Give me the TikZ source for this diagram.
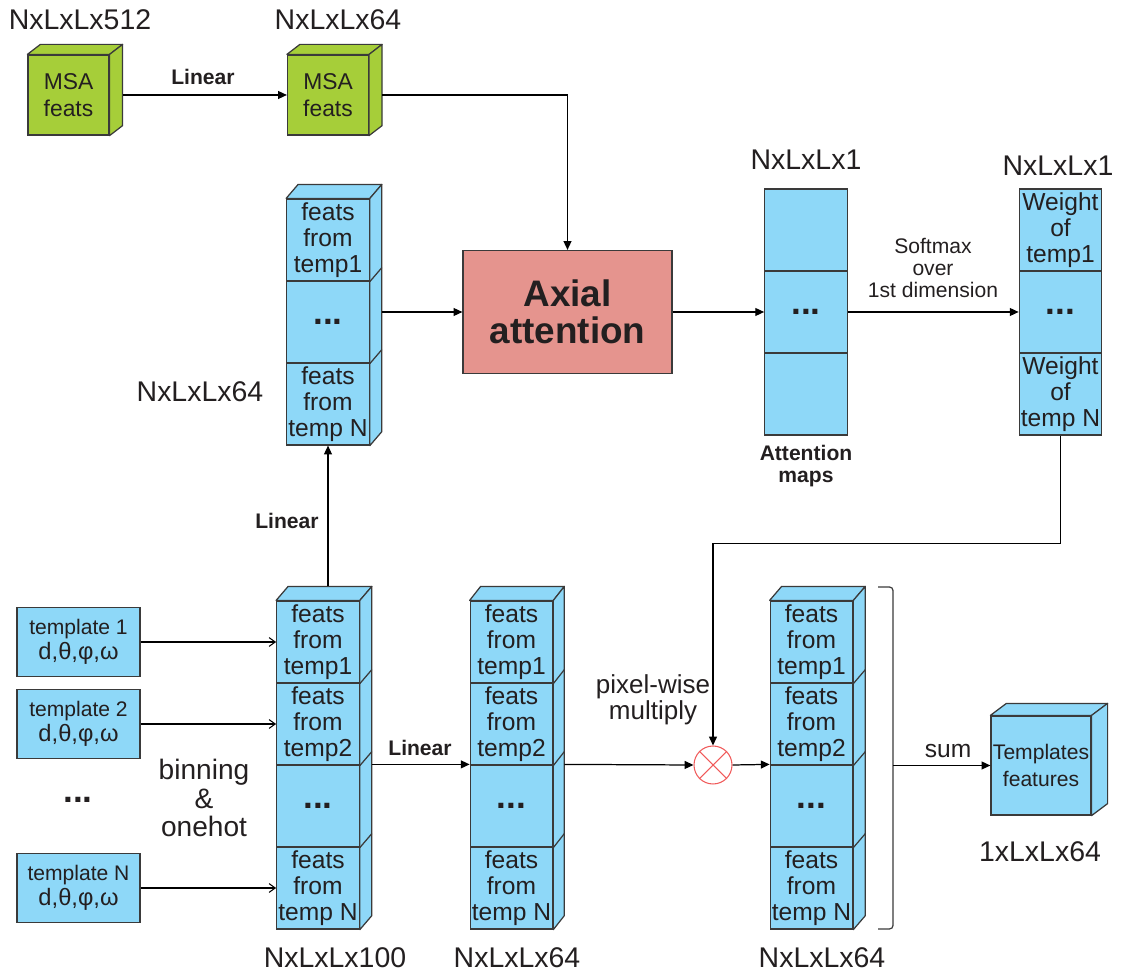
\documentclass[tikz,border=0pt]{standalone}
\usepackage{fontspec}
\setmainfont{Liberation Sans}
\usetikzlibrary{arrows.meta,calc}
\definecolor{cellblue}{HTML}{8ED8F8}
\definecolor{msagreen}{HTML}{A6CE39}
\definecolor{axred}{HTML}{E5948E}
\definecolor{mulred}{HTML}{F05A5A}
\definecolor{inkgray}{HTML}{231F20}
\definecolor{edgegray}{HTML}{3A3A3A}

\begin{document}
\begin{tikzpicture}[x=0.02cm,y=-0.02cm,
  cell/.style={draw=edgegray,fill=cellblue,line width=0.7pt,minimum width=1.65cm,
    minimum height=1.64cm,inner sep=0pt,align=center,text=inkgray,
    font=\fontsize{14}{14.8}\selectfont},
  dots/.style={font=\bfseries\fontsize{20}{20}\selectfont},
  face/.style={draw=edgegray,fill=cellblue,line width=0.7pt,line join=round},
  dimlab/.style={text=inkgray,font=\fontsize{16.2}{17}\selectfont},
  oplab/.style={text=inkgray,font=\bfseries\fontsize{12}{13}\selectfont,align=center},
  note/.style={text=inkgray,align=center},
  arr/.style={-{Triangle[length=5pt,width=4.5pt]},line width=0.7pt},
  thinarr/.style={-{Straight Barb[length=3.5pt,width=5pt]},line width=0.6pt}
]

  \useasboundingbox (0,0) rectangle (1123,972);

  % ---- MSA branch (top) ----------------------------------------
  \node[cell,fill=msagreen,minimum width=1.62cm,minimum height=1.6cm,
    font=\fontsize{13}{15}\selectfont] (m1) at (68.5,95) {MSA\\feats};
  \node[cell,fill=msagreen,minimum width=1.62cm,minimum height=1.6cm,
    font=\fontsize{13}{15}\selectfont] (m2) at (328,95) {MSA\\feats};
  \node[dimlab] (d512) at (80,20) {NxLxLx512};
  \node[dimlab] (dm64) at (338,20) {NxLxLx64};
  \node[oplab] (lin1) at (203,77) {Linear};

  % ---- projected template feats (upper stack) ------------------
  \node[cell] (u1) at (328,240) {feats\\from\\temp1};
  \node[cell,dots] (u2) at (328,322) {...};
  \node[cell] (u3) at (328,404) {feats\\from\\temp N};
  \node[dimlab] (du64) at (200,392) {NxLxLx64};

  % ---- axial attention ------------------------------------------
  \node[draw=edgegray,fill=axred,line width=0.7pt,minimum width=4.18cm,
    minimum height=2.46cm,align=center,text=inkgray,
    font=\bfseries\fontsize{21}{21}\selectfont] (ax) at (567.5,312) {Axial\\attention};

  % attention maps
  \node[cell] (a1) at (806,230) {};
  \node[cell,dots] (a2) at (806,312) {...};
  \node[cell] (a3) at (806,394) {};
  \node[dimlab] (da1) at (806,160) {NxLxLx1};
  \node[oplab] (amap) at (806,466) {Attention\\maps};

  % weights
  \node[cell] (w1) at (1060.5,230) {Weight\\of\\temp1};
  \node[cell,dots] (w2) at (1060.5,312) {...};
  \node[cell] (w3) at (1060.5,394) {Weight\\of\\temp N};
  \node[dimlab] (dw1) at (1058,166) {NxLxLx1};
  \node[note,font=\fontsize{12}{12.5}\selectfont] (smax) at (933,268)
    {Softmax\\over\\1st dimension};

  % ---- templates (bottom left) ----------------------------------
  \node[draw=edgegray,fill=cellblue,line width=0.7pt,minimum width=2.46cm,
    minimum height=1.38cm,align=center,text=inkgray,inner sep=0pt,
    font=\fontsize{12}{14}\selectfont] (t1) at (78.5,642)
    {template 1\\{\fontsize{13.5}{14}\selectfont d,θ,φ,ω}};
  \node[draw=edgegray,fill=cellblue,line width=0.7pt,minimum width=2.46cm,
    minimum height=1.38cm,align=center,text=inkgray,inner sep=0pt,
    font=\fontsize{12}{14}\selectfont] (t2) at (78.5,724)
    {template 2\\{\fontsize{13.5}{14}\selectfont d,θ,φ,ω}};
  \node[draw=edgegray,fill=cellblue,line width=0.7pt,minimum width=2.46cm,
    minimum height=1.38cm,align=center,text=inkgray,inner sep=0pt,
    font=\fontsize{12}{14}\selectfont] (tN) at (78.5,888)
    {template N\\{\fontsize{13.5}{14}\selectfont d,θ,φ,ω}};
  \node[note,dots] (tdots) at (78,800) {...};
  \node[note,font=\fontsize{16}{16.4}\selectfont] (bin) at (204,798)
    {binning\\\&\\onehot};

  % ---- three bottom stacks ---------------------------------------
  \node[cell] (b1c1) at (318,642) {feats\\from\\temp1};
  \node[cell] (b1c2) at (318,724) {feats\\from\\temp2};
  \node[cell,dots] (b1c3) at (318,806) {...};
  \node[cell] (b1c4) at (318,888) {feats\\from\\temp N};
  \node[cell] (b2c1) at (511.5,642) {feats\\from\\temp1};
  \node[cell] (b2c2) at (511.5,724) {feats\\from\\temp2};
  \node[cell,dots] (b2c3) at (511.5,806) {...};
  \node[cell] (b2c4) at (511.5,888) {feats\\from\\temp N};
  \node[cell] (b3c1) at (811.5,642) {feats\\from\\temp1};
  \node[cell] (b3c2) at (811.5,724) {feats\\from\\temp2};
  \node[cell,dots] (b3c3) at (811.5,806) {...};
  \node[cell] (b3c4) at (811.5,888) {feats\\from\\temp N};
  \node[dimlab] (d100) at (335,958) {NxLxLx100};
  \node[dimlab] (db64) at (517,958) {NxLxLx64};
  \node[dimlab] (dc64) at (822,958) {NxLxLx64};
  \node[oplab] (lin3) at (420,748) {Linear};
  \node[oplab] (lin2) at (287,521) {Linear};
  \node[note,font=\fontsize{14.8}{14.7}\selectfont] (pw) at (653,700)
    {pixel-wise\\multiply};

  % multiply sign
  \node[circle,draw=mulred,line width=0.6pt,minimum size=0.76cm,inner sep=0pt] (mul) at (713,765) {};
  \draw[mulred,line width=0.6pt] (mul.north west) -- (mul.south east)
    (mul.north east) -- (mul.south west);

  % result
  \node[cell,minimum width=2cm,minimum height=1.98cm,
    font=\fontsize{12}{15}\selectfont] (tf) at (1041,765.5) {Templates\\features};
  \node[dimlab] (d1x64) at (1040,852) {1xLxLx64};
  \node[note,font=\fontsize{14}{15}\selectfont] (sum) at (948,751) {sum};

  % ---- depth faces -----------------------------------------------
  \foreach \a/\b/\dx/\dy/\col in {u1/u3/12/14/cellblue, b1c1/b1c4/12/14/cellblue,
      b2c1/b2c4/11/14/cellblue, b3c1/b3c4/12/14/cellblue, m1/m1/13/10/msagreen,
      m2/m2/13/10/msagreen, tf/tf/16/12/cellblue} {
    \filldraw[face,fill=\col] (\a.north west) -- ++(\dx,-\dy)
      -- ($(\a.north east)+(\dx,-\dy)$) -- (\a.north east) -- cycle;
    \filldraw[face,fill=\col] (\a.north east) -- ++(\dx,-\dy)
      -- ($(\b.south east)+(\dx,-\dy)$) -- (\b.south east) -- cycle;
  }
  \foreach \c/\dx in {u1/12, u2/12, b1c1/12, b1c2/12, b1c3/12, b2c1/11, b2c2/11,
      b2c3/11, b3c1/12, b3c2/12, b3c3/12}
    \draw[edgegray,line width=0.7pt] (\c.south east) -- ++(\dx,-14);

  % bracket
  \coordinate (brtop) at (878,587);
  \coordinate (brbot) at (878,929);
  \coordinate (brk) at (893,765.5);
  \draw[edgegray,line width=0.7pt,rounded corners=2pt]
    (brtop) -- (893,587) -- (893,929) -- (brbot);

  % ---- connectors ---------------------------------------------------
  \draw[arr] ($(m1.east)+(13,0)$) -- (m2.west);
  \draw[arr] ($(m2.east)+(13,0)$) -| (ax.north);
  \draw[arr] ($(u2.east |- ax.west)+(12,0)$) -- (ax.west);
  \draw[arr] (ax.east) -- (a2.west);
  \draw[arr] (a2.east) -- (w2.west);
  \draw[arr] ($(b1c1.north)+(10,-14)$) -- (u3.south);
  \draw[thinarr] (t1.east) -- (b1c1.west |- t1.east);
  \draw[thinarr] (t2.east) -- (b1c2.west |- t2.east);
  \draw[thinarr] (tN.east) -- (b1c4.west |- tN.east);
  \draw[arr] ($(b1c3.north east)+(12,0)$) -- (b2c3.north west);
  \draw[arr] ($(b2c3.north east)+(11,0)$) -- (mul.west);
  \draw[arr] (mul.east) -- (b3c3.north west);
  \draw[arr] (w3.south) -- ++(0,108) -| (mul.north);
  \draw[arr] (brk) -- (tf.west |- brk);

\end{tikzpicture}
\end{document}
